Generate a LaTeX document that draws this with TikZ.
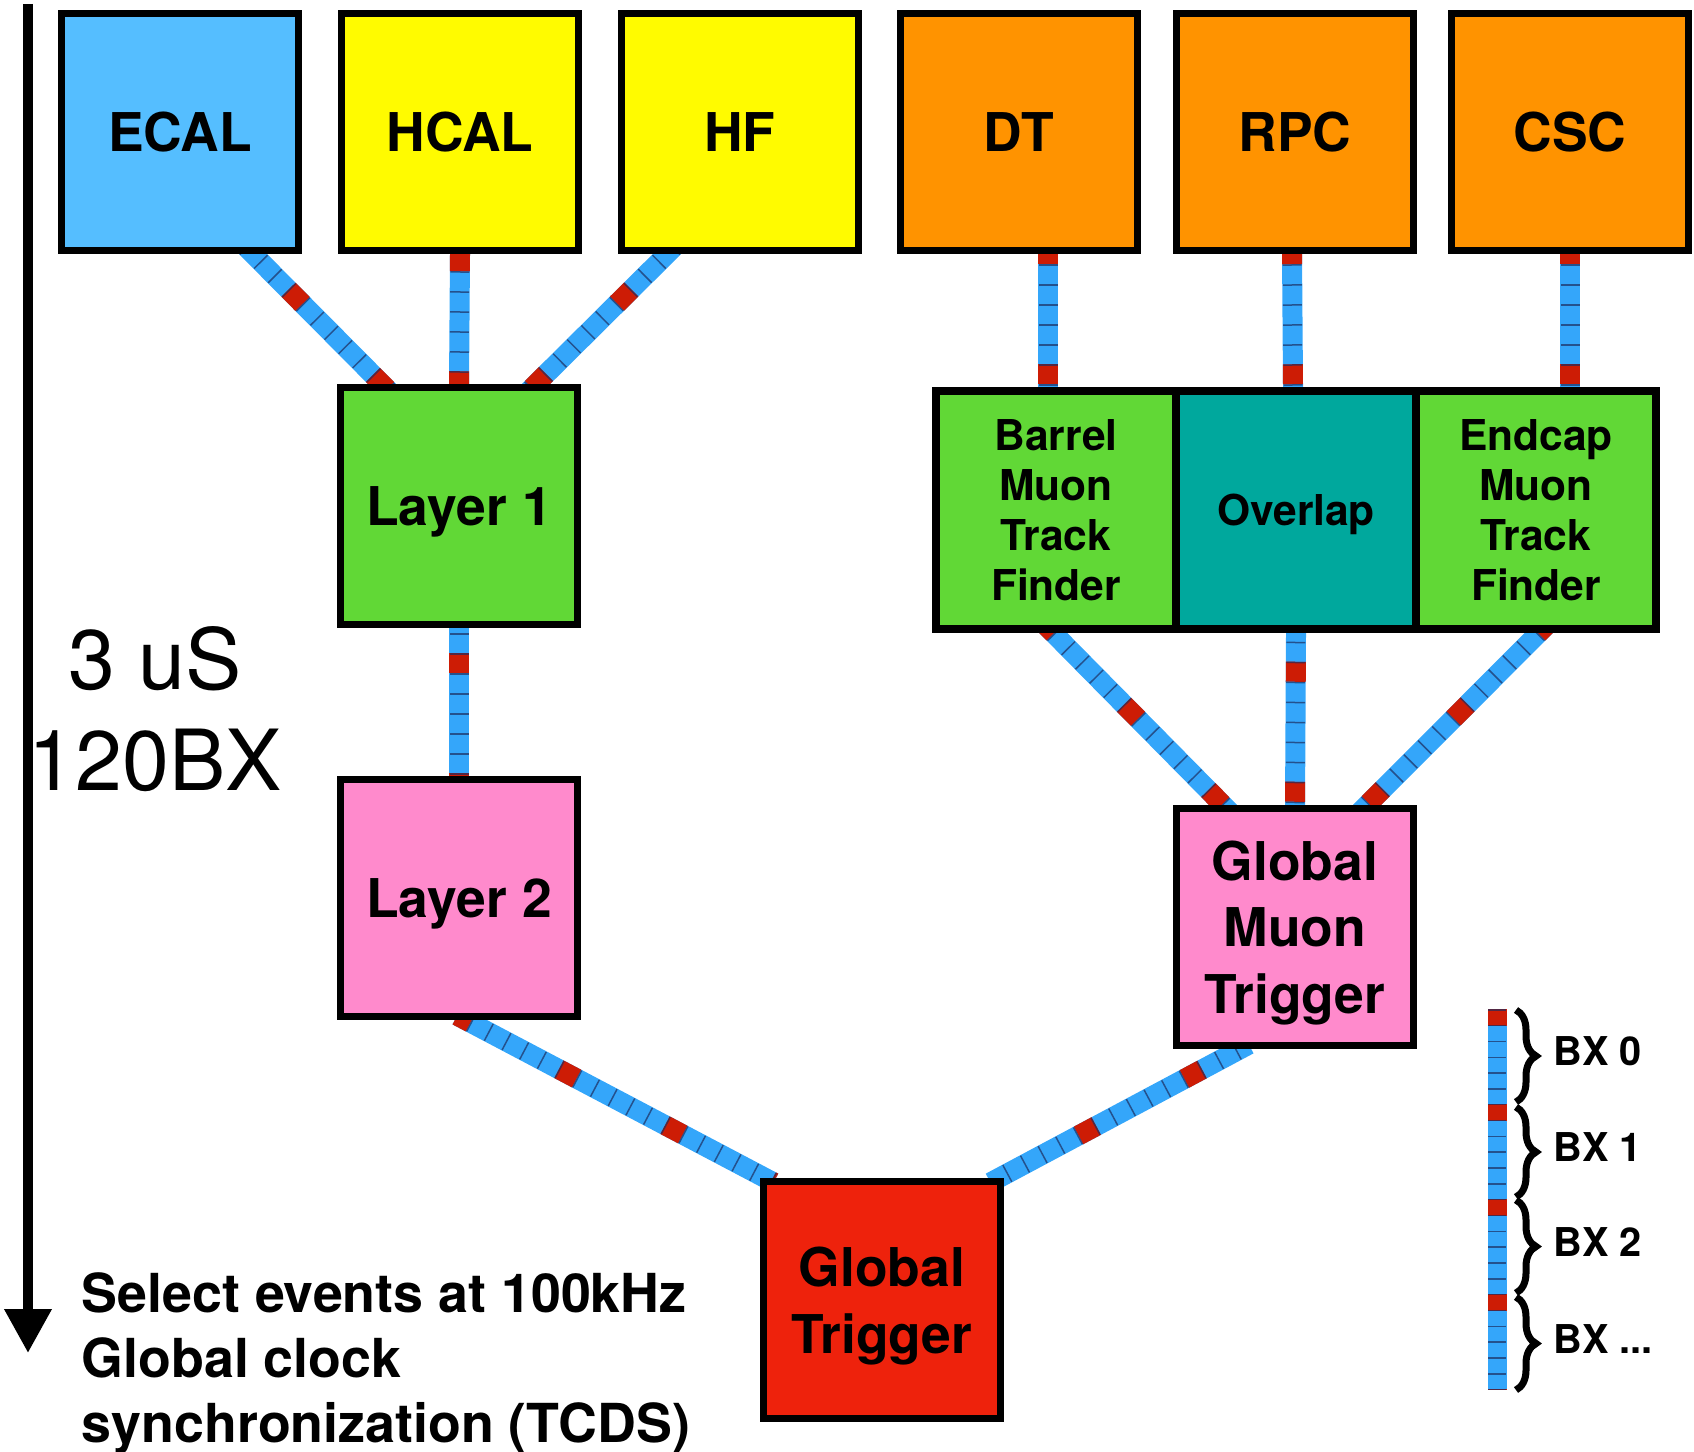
\documentclass[tikz,border=0pt]{standalone}
\usepackage{fontspec}
\setmainfont{TeX Gyre Heros}
\usetikzlibrary{arrows.meta,decorations.pathreplacing,calc}
\definecolor{ecalblue}{RGB}{85,190,255}
\definecolor{hcalyellow}{RGB}{255,251,0}
\definecolor{muonorange}{RGB}{255,147,0}
\definecolor{tfgreen}{RGB}{97,216,54}
\definecolor{overlapteal}{RGB}{0,168,157}
\definecolor{gmtpink}{RGB}{255,138,204}
\definecolor{gtred}{RGB}{238,34,12}
\definecolor{bxblue}{RGB}{52,166,250}
\definecolor{bxred}{RGB}{205,28,5}
\definecolor{bxtick}{RGB}{30,45,95}
\pgfdeclarelayer{bg}
\pgfsetlayers{bg,main}

\begin{document}
\begin{tikzpicture}[x=0.1mm, y=-0.1mm,
        box/.style={rectangle, draw, line width=0.75mm, inner sep=0pt, align=center, text depth=0pt,
            minimum width=23.7mm, minimum height=23.7mm, font=\fontsize{15.2}{19}\selectfont\bfseries},
        tfbox/.style={box, minimum width=24mm, minimum height=23.8mm, font=\fontsize{12.1}{14.2}\selectfont\bfseries},
        bxlink/.style={line width=2mm, draw=bxblue, shorten <=-1mm, shorten >=-1mm,
            postaction={draw=bxred, dash pattern=on 2mm off 10mm, dash phase=#1},
            postaction={draw=bxtick, draw opacity=0.7, line width=1.9mm, dash pattern=on 0.15mm off 1.85mm, dash phase=#1}},
        bxlegend/.style={line width=1.9mm, draw=bxblue,
            postaction={draw=bxred, dash pattern=on 1.7mm off 7.8mm},
            postaction={draw=bxtick, draw opacity=0.7, line width=1.8mm, dash pattern=on 0.15mm off 1.433mm}},
        bxbrace/.style={decorate, decoration={brace, amplitude=2mm}, line width=0.7mm},
        bxlabel/.style={midway, anchor=west, xshift=3.4mm, yshift=0.45mm, inner sep=0pt, font=\fontsize{11.3}{13}\selectfont\bfseries},
        timeline/.style={line width=1mm, -{Triangle[length=4.4mm, width=4.5mm]}}
    ]
    \useasboundingbox (0,0) rectangle (1694,1451);

    % detectors
    \node[box, fill=ecalblue] (ecal) at (180,132) {ECAL};
    \node[box, fill=hcalyellow] (hcal) at (460,132) {HCAL};
    \node[box, fill=hcalyellow] (hf) at (740,132) {HF};
    \node[box, fill=muonorange] (dt) at (1019,132) {DT};
    \node[box, fill=muonorange] (rpc) at (1295,132) {RPC};
    \node[box, fill=muonorange] (csc) at (1570,132) {CSC};

    % calorimeter trigger
    \node[box, fill=tfgreen] (l1) at (459,506) {Layer 1};
    \node[box, fill=gmtpink] (l2) at (459,898) {Layer 2};

    % muon trigger
    \node[tfbox, fill=tfgreen] (bmtf) at (1056,510) {Barrel\\Muon\\Track\\Finder};
    \node[tfbox, fill=overlapteal] (omtf) at (1296,510) {Overlap};
    \node[tfbox, fill=tfgreen] (emtf) at (1536,510) {Endcap\\Muon\\Track\\Finder};
    \node[box, fill=gmtpink] (gmt) at (1295,927) {Global\\Muon\\Trigger};

    \node[box, fill=gtred] (gt) at (882,1300) {Global\\Trigger};

    \begin{pgfonlayer}{bg}
        \draw[bxlink=6mm] ([xshift=-4.9mm]ecal.south east) -- ([xshift=4.5mm]l1.north west);
        \draw[bxlink=11.3mm] (hcal.south) -- (l1.north);
        \draw[bxlink=6mm] ([xshift=4.9mm]hf.south west) -- ([xshift=-4.5mm]l1.north east);
        \draw[bxlink=8.5mm] (l1.south) -- (l2.north);
        \draw[bxlink=0mm] ($(bmtf.north |- dt.south)+(-8,0)$) -- ($(bmtf.north)+(-8,0)$);
        \draw[bxlink=0mm] ([xshift=-0.3mm]rpc.south) -- ([xshift=-0.3mm]omtf.north);
        \draw[bxlink=0mm] (csc.south) -- (csc.south |- emtf.north);
        \draw[bxlink=0.9mm] ([xshift=-0.3mm]bmtf.south) -- ([xshift=5mm]gmt.north west);
        \draw[bxlink=8.1mm] (omtf.south) -- (gmt.north);
        \draw[bxlink=0.9mm] ([xshift=0.3mm]emtf.south) -- ([xshift=-5mm]gmt.north east);
        \draw[bxlink=0.5mm] ([xshift=0.7mm]l2.south) -- ([xshift=0.5mm]gt.north west);
        \draw[bxlink=6.7mm] ([xshift=-5.5mm]gmt.south) -- ([xshift=-0.5mm]gt.north east);
    \end{pgfonlayer}

    % time axis
    \coordinate (ttop) at (28,4);
    \coordinate (tbot) at (28,1353);
    \draw[timeline] (ttop) -- (tbot);
    \node[align=center, anchor=north, inner sep=0pt, font=\fontsize{24}{28.7}\selectfont] (latency) at (155,626) {3 uS\\120BX};
    \node[align=left, anchor=north west, inner sep=0pt, font=\fontsize{15.3}{18.5}\selectfont\bfseries] (notes) at (81,1272)
        {Select events at 100kHz\\Global clock\\synchronization (TCDS)};

    % legend
    \coordinate (bxtop) at (1497,1009);
    \coordinate (bxbot) at (1497,1390);
    \draw[bxlegend] (bxtop) -- (bxbot);
    \draw[bxbrace] (1516,1010) -- node[bxlabel] (bx0) {BX 0} (1516,1102);
    \draw[bxbrace] (1516,1107) -- node[bxlabel] (bx1) {BX 1} (1516,1197);
    \draw[bxbrace] (1516,1200) -- node[bxlabel] (bx2) {BX 2} (1516,1293);
    \draw[bxbrace] (1516,1297) -- node[bxlabel] (bx3) {BX ...} (1516,1390);
\end{tikzpicture}
\end{document}
